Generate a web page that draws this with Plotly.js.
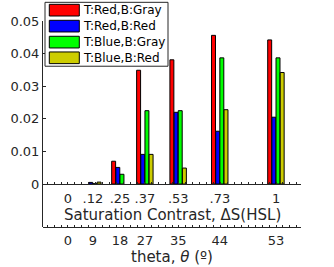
<!DOCTYPE html>
<html>
<head>
<meta charset="utf-8">
<script src="https://cdn.plot.ly/plotly-3.0.1.min.js"></script>
<style>html,body{margin:0;padding:0;background:#fff;}#chart{width:334px;height:267px;}</style>
</head>
<body>
<div id="chart"></div>
<script>
// ---- data ----
const satPos = [0, 0.12, 0.25, 0.37, 0.53, 0.73, 1];
const satLabels = ['0', '.12', '.25', '.37', '.53', '.73', '1'];
const thetaLabels = ['0', '9', '18', '27', '35', '44', '53'];
const seriesNames = ['T:Red,B:Gray', 'T:Red,B:Red', 'T:Blue,B:Gray', 'T:Blue,B:Red'];
const redGray  = [0, 0.0000, 0.0070, 0.0349, 0.0381, 0.0456, 0.0442];
const redRed   = [0, 0.0005, 0.0051, 0.0091, 0.0220, 0.0162, 0.0205];
const blueGray = [0, 0.0001, 0.0030, 0.0225, 0.0225, 0.0387, 0.0387];
const blueRed  = [0, 0.0006, 0.0000, 0.0091, 0.0049, 0.0228, 0.0342];
const yTicks = [0, 0.01, 0.02, 0.03, 0.04, 0.05];
const yTickText = ['0', '0.01', '0.02', '0.03', '0.04', '0.05'];

// ---- styling ----
const colors = ['#ff0000', '#0000ff', '#00ff00', '#cccc00'];
const values = [redGray, redRed, blueGray, blueRed];
const barW = 0.019;
const offsets = [-0.040, -0.020, 0.000, 0.020];
const font = 'DejaVu Sans, sans-serif';
const ink = '#262626';

const W = 334, H = 267;
const m = {l: 43, r: 33, t: 20.7, b: 40};
const pw = W - m.l - m.r, ph = H - m.t - m.b;
const px = x => (x - m.l) / pw;
const py = y => (H - m.b - y) / ph;

const yMin = -0.01317, yMax = 0.05;
const xAxisPos = (0 - yMin) / (yMax - yMin);

const traces = values.map((v, i) => ({
  type: 'bar',
  x: satPos,
  y: v,
  width: barW,
  offset: offsets[i],
  name: seriesNames[i],
  marker: {color: colors[i], line: {color: '#000', width: v.map(d => d > 0 ? 1 : 0)}},
  showlegend: false,
  hoverinfo: 'skip'
}));
// carrier trace so the theta axis (x2) is created; draws nothing
traces.push({
  type: 'scatter', mode: 'none', x: satPos, y: redGray,
  xaxis: 'x2', yaxis: 'y', showlegend: false, hoverinfo: 'skip'
});

// legend (custom, MATLAB-style wide swatches)
const shapes = [{
  type: 'rect', xref: 'paper', yref: 'paper',
  x0: px(45), x1: px(168), y0: py(66), y1: py(2),
  line: {color: ink, width: 1}, fillcolor: '#fff', layer: 'above'
}];
const annotations = [];
const rowTop = [4, 20, 36, 51.7];
seriesNames.forEach((n, i) => {
  shapes.push({
    type: 'rect', xref: 'paper', yref: 'paper',
    x0: px(49.3), x1: px(79.3), y0: py(rowTop[i] + 11.7), y1: py(rowTop[i]),
    line: {color: '#000', width: 1}, fillcolor: colors[i], layer: 'above'
  });
  annotations.push({
    xref: 'paper', yref: 'paper', x: px(80.5), y: py(rowTop[i] + 5.9),
    xanchor: 'left', yanchor: 'middle', showarrow: false,
    text: n, font: {family: font, size: 12, color: '#000'}
  });
});
annotations.push({
  xref: 'paper', yref: 'paper', x: 0.5, y: py(215),
  xanchor: 'center', yanchor: 'middle', showarrow: false,
  text: 'Saturation Contrast, \u0394S(HSL)', font: {family: font, size: 15, color: ink}
});
annotations.push({
  xref: 'paper', yref: 'paper', x: 0.5, y: py(257),
  xanchor: 'center', yanchor: 'middle', showarrow: false,
  text: 'theta, <i>\u03b8</i> (\u00ba)', font: {family: font, size: 15, color: ink}
});

const minor = {ticks: 'inside', ticklen: 2, tickcolor: ink, tickwidth: 1, tickmode: 'linear', tick0: 0, dtick: 1/30};

const layout = {
  width: W, height: H,
  margin: m,
  paper_bgcolor: '#fff', plot_bgcolor: '#fff',
  barmode: 'overlay',
  font: {family: font, size: 13, color: ink},
  showlegend: false,
  xaxis: {
    range: [-0.12, 1.12], anchor: 'free', position: xAxisPos,
    tickmode: 'array', tickvals: satPos, ticktext: satLabels,
    ticks: '', showline: true, linecolor: ink, linewidth: 1,
    showgrid: false, zeroline: false, minor: minor, ticklabelstandoff: 2,
    tickfont: {family: font, size: 13, color: ink}
  },
  xaxis2: {
    range: [-0.12, 1.12], overlaying: 'x', anchor: 'free', position: 0, side: 'bottom',
    tickmode: 'array', tickvals: satPos, ticktext: thetaLabels,
    ticks: '', showline: true, linecolor: ink, linewidth: 1,
    showgrid: false, zeroline: false, minor: minor, ticklabelstandoff: 1,
    tickfont: {family: font, size: 13, color: ink}
  },
  yaxis: {
    range: [yMin, yMax],
    tickmode: 'array', tickvals: yTicks, ticktext: yTickText,
    ticks: 'inside', ticklen: 3, tickcolor: ink,
    showline: true, linecolor: ink, linewidth: 1,
    showgrid: false, zeroline: false,
    tickfont: {family: font, size: 13, color: ink}
  },
  shapes: shapes,
  annotations: annotations
};

Plotly.newPlot('chart', traces, layout, {staticPlot: true, displayModeBar: false});
</script>
</body>
</html>
